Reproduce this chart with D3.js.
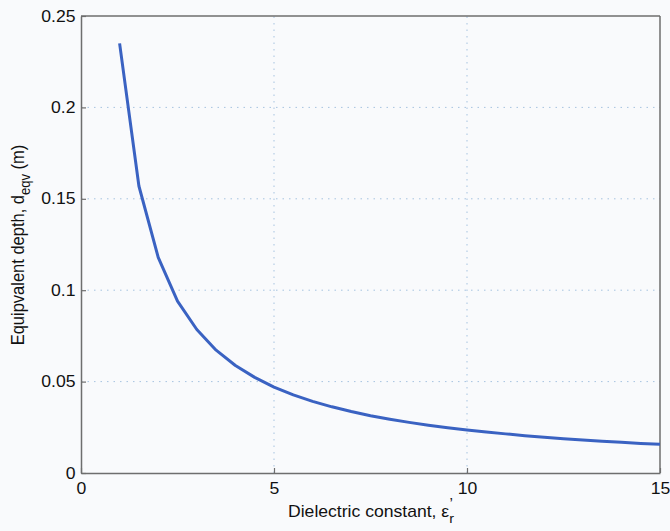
<!DOCTYPE html>
<html>
<head>
<meta charset="utf-8">
<script src="https://cdn.jsdelivr.net/npm/d3@7"></script>
<style>
  body { margin: 0; background: #f9fafc; }
  svg text { font-family: "Liberation Sans", Arial, sans-serif; fill: #111; }
</style>
</head>
<body>
<div id="chart"></div>
<script>
// dielectric constant (x) and equivalent depth in m (y)
var epsR = [1, 1.5, 2, 2.5, 3, 3.5, 4, 4.5, 5, 5.5, 6, 6.5, 7, 7.5, 8, 8.5, 9, 9.5, 10,
            10.5, 11, 11.5, 12, 12.5, 13, 13.5, 14, 14.5, 15];
var depth = [0.235, 0.157, 0.118, 0.094, 0.0785, 0.0672, 0.0588, 0.0523, 0.047, 0.0427,
             0.0392, 0.0362, 0.0336, 0.0313, 0.0294, 0.0277, 0.0261, 0.0247, 0.0235, 0.0224,
             0.0214, 0.0204, 0.0196, 0.0188, 0.0181, 0.0174, 0.0168, 0.0162, 0.0157];
var xTicks = [0, 5, 10, 15];
var yTicks = [0, 0.05, 0.1, 0.15, 0.2, 0.25];

var width = 670, height = 531;
var margin = {top: 16, right: 10, bottom: 58, left: 81};
var stretch = 1.1; // the source figure is wider than tall, text looks stretched

var svg = d3.select("#chart").append("svg")
    .attr("width", width)
    .attr("height", height);

svg.append("rect").attr("width", width).attr("height", height).attr("fill", "#f9fafc");

var x = d3.scaleLinear().domain([0, 15]).range([margin.left, width - margin.right]);
var y = d3.scaleLinear().domain([0, 0.25]).range([height - margin.bottom, margin.top]);

// grid
var grid = svg.append("g")
    .attr("stroke", "#a6c3e0")
    .attr("stroke-width", 1)
    .attr("stroke-dasharray", "1.5,5");
grid.selectAll(".gx").data(xTicks.slice(1, -1)).enter().append("line")
    .attr("x1", d => x(d)).attr("x2", d => x(d))
    .attr("y1", y(0)).attr("y2", y(0.25));
grid.selectAll(".gy").data(yTicks.slice(1, -1)).enter().append("line")
    .attr("x1", x(0)).attr("x2", x(15))
    .attr("y1", d => y(d)).attr("y2", d => y(d));

// axes, ticks drawn inward
var xAxis = svg.append("g")
    .attr("transform", "translate(0," + y(0) + ")")
    .call(d3.axisBottom(x).tickValues(xTicks).tickFormat(d3.format("d")).tickSizeInner(-5).tickSizeOuter(0).tickPadding(10));
var yAxis = svg.append("g")
    .attr("transform", "translate(" + x(0) + ",0)")
    .call(d3.axisLeft(y).tickValues(yTicks).tickFormat(d => d === 0 ? "0" : String(d)).tickSizeInner(-5).tickSizeOuter(0).tickPadding(5));

[xAxis, yAxis].forEach(function (a) {
    a.select(".domain").attr("stroke", "#6e6e6e").attr("stroke-width", 1.5);
    a.selectAll(".tick line").attr("stroke", "#6e6e6e").attr("stroke-width", 1.2);
    a.selectAll(".tick text").attr("font-size", 16).attr("fill", "#111")
        .attr("transform", "scale(" + stretch + ",1)");
});

// top and right frame
svg.append("line").attr("x1", x(0)).attr("x2", x(15)).attr("y1", y(0.25)).attr("y2", y(0.25))
    .attr("stroke", "#6e6e6e").attr("stroke-width", 1.5);
svg.append("line").attr("x1", x(15)).attr("x2", x(15)).attr("y1", y(0.25)).attr("y2", y(0))
    .attr("stroke", "#6e6e6e").attr("stroke-width", 1.5);

// curve
var pts = epsR.map((e, i) => [e, depth[i]]);
svg.append("path")
    .datum(pts)
    .attr("fill", "none")
    .attr("stroke", "#3a62c2")
    .attr("stroke-width", 3)
    .attr("stroke-linejoin", "round")
    .attr("d", d3.line().x(d => x(d[0])).y(d => y(d[1])));

// x label
var xl = svg.append("g")
    .attr("transform", "translate(371,517) scale(" + stretch + ",1)")
    .append("text")
    .attr("text-anchor", "middle")
    .attr("font-size", 16);
xl.append("tspan").text("Dielectric constant, \u03b5");
xl.append("tspan").attr("font-size", 13).attr("dy", 6).text("r");
xl.append("tspan").attr("font-size", 14).attr("dx", -4).attr("dy", -15).text("\u2019");

// y label
var yl = svg.append("g")
    .attr("transform", "translate(24,245) rotate(-90) scale(1," + stretch + ")")
    .append("text")
    .attr("text-anchor", "middle")
    .attr("font-size", 16.5);
yl.append("tspan").text("Equipvalent depth, d");
yl.append("tspan").attr("font-size", 13).attr("dy", 5).text("eqv");
yl.append("tspan").attr("dy", -5).text(" (m)");
</script>
</body>
</html>
